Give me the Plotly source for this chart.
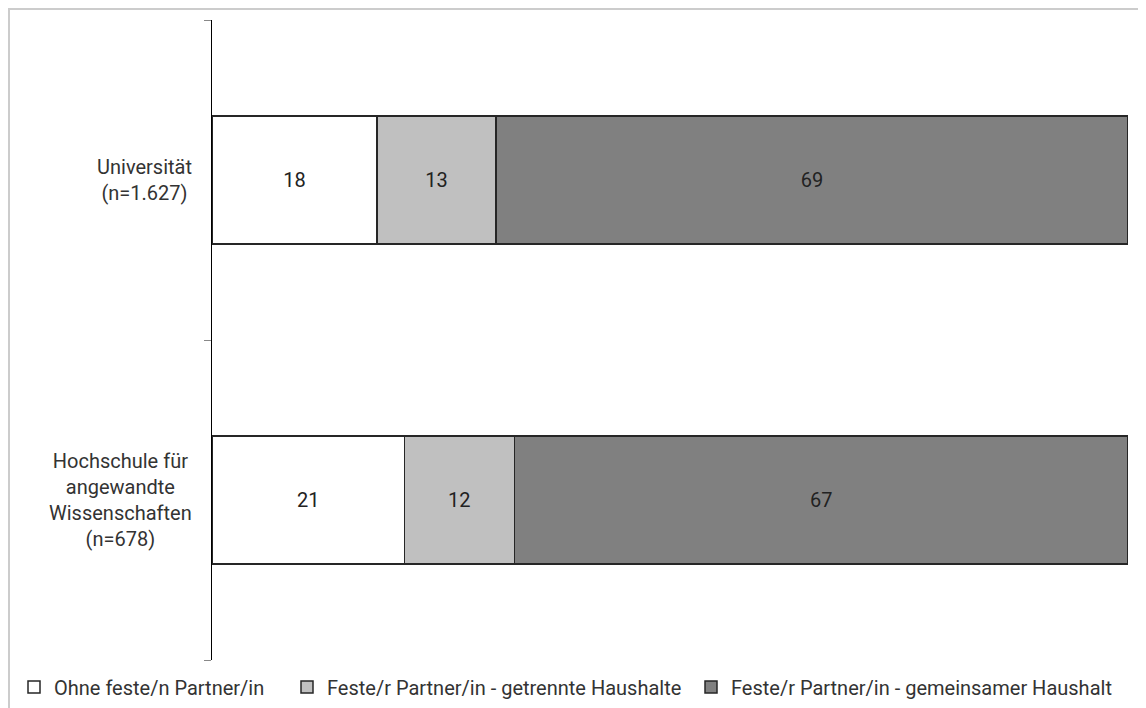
import plotly.graph_objects as go

categories = ["Hochschule für<br>angewandte<br>Wissenschaften<br>(n=678)", "Universität<br>(n=1.627)"]
series_names = ["Ohne feste/n Partner/in",
                "Feste/r Partner/in - getrennte Haushalte",
                "Feste/r Partner/in - gemeinsamer Haushalt"]
ohne = [21, 18]
getrennt = [12, 13]
gemeinsam = [67, 69]
colors = ["#ffffff", "#c0c0c0", "#808080"]

# page is rendered with an 8px body margin
OFF = 8
W, H = 1146 - OFF, 708 - OFF
L, R, T, B = 212 - OFF, 18, 20 - OFF, 48
pw, ph = W - L - R, H - T - B

def px_x(page_x):
    return (page_x - OFF - L) / pw

def px_y(page_y):
    return (OFF + T + ph - page_y) / ph

FONT = "Roboto"
TXT = "#333333"
FS = 20

fig = go.Figure()
legend_ids = ["legend", "legend2", "legend3"]
for i, (name, vals) in enumerate(zip(series_names, [ohne, getrennt, gemeinsam])):
    fig.add_trace(go.Bar(
        y=categories, x=vals, name=name, orientation="h",
        marker=dict(color=colors[i], line=dict(color="#262626", width=1.5)),
        text=[str(v) for v in vals], textposition="inside",
        insidetextanchor="middle", textangle=0,
        textfont=dict(family=FONT, size=FS, color="#222222"),
        width=0.4, legend=legend_ids[i], hoverinfo="x+name",
    ))

# category labels, centered lines
for c in categories:
    fig.add_annotation(x=px_x(194), xref="paper", y=c, yref="y", text=c,
                       showarrow=False, xanchor="right", yanchor="middle",
                       align="center",
                       font=dict(family=FONT, size=FS, color=TXT))

# outer frame
fig.add_shape(type="rect", xref="paper", yref="paper",
              x0=px_x(OFF + 1), x1=px_x(1160), y0=px_y(720), y1=px_y(OFF + 1),
              line=dict(color="#cccccc", width=2), fillcolor="rgba(0,0,0,0)", layer="below")

leg_text_x = [54, 327, 731]
legkw = dict(orientation="h", xanchor="left", yanchor="middle", itemwidth=30,
             font=dict(family=FONT, size=FS, color=TXT),
             bgcolor="rgba(0,0,0,0)", borderwidth=0)
layout_leg = {}
for lid, tx in zip(legend_ids, leg_text_x):
    layout_leg[lid] = dict(x=px_x(tx - 40), y=px_y(687), **legkw)

fig.update_layout(
    width=W, height=H, margin=dict(l=L, r=R, t=T, b=B, autoexpand=False),
    paper_bgcolor="white", plot_bgcolor="white",
    barmode="stack", showlegend=True,
    xaxis=dict(range=[0, 100], visible=False, fixedrange=True),
    yaxis=dict(type="category", showticklabels=False, showline=True, linecolor="#000000",
               linewidth=1.3, ticks="outside", ticklen=7, tickcolor="#888888",
               tickson="boundaries", showgrid=False, zeroline=False),
    **layout_leg,
)

fig.write_html("out.html")
